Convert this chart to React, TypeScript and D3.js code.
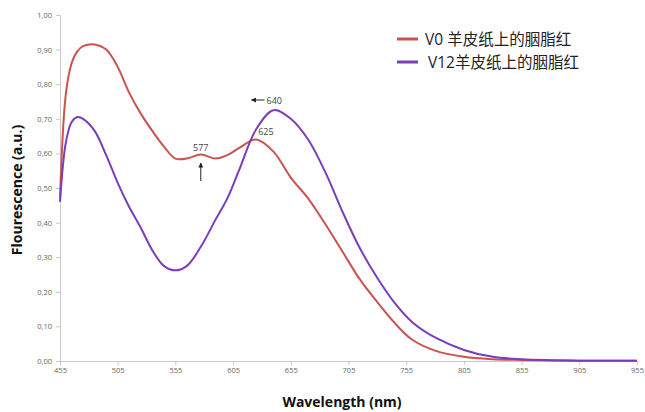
import React, { useEffect, useRef } from 'react';
import * as d3 from 'd3';

// wavelength (nm) sample points
const wavelengths = [455, 460, 465, 470, 475, 485, 495, 505, 515, 525, 535, 545, 555, 565, 577, 590, 600, 610, 625, 640, 655, 670, 685, 700, 715, 730, 745, 760, 780, 805, 830, 855, 905, 955];

// V0 on parchment
const v0Values = [0.47, 0.77, 0.86, 0.895, 0.91, 0.915, 0.9, 0.85, 0.775, 0.715, 0.665, 0.62, 0.585, 0.585, 0.597, 0.585, 0.595, 0.615, 0.64, 0.605, 0.53, 0.47, 0.395, 0.315, 0.235, 0.17, 0.11, 0.062, 0.03, 0.012, 0.005, 0.003, 0.001, 0.001];

// V12 on parchment
const v12Values = [0.46, 0.63, 0.69, 0.705, 0.7, 0.665, 0.595, 0.515, 0.445, 0.385, 0.32, 0.275, 0.262, 0.275, 0.33, 0.41, 0.47, 0.55, 0.67, 0.725, 0.7, 0.64, 0.545, 0.43, 0.325, 0.24, 0.168, 0.113, 0.068, 0.032, 0.012, 0.005, 0.001, 0.001];

const seriesNames = ['V0 羊皮纸上的胭脂红', 'V12羊皮纸上的胭脂红'];
const seriesColors = ['#C9544E', '#7A3FB8'];

const xTicks = [455, 505, 555, 605, 655, 705, 755, 805, 855, 905, 955];
const yTicks = [0, 0.1, 0.2, 0.3, 0.4, 0.5, 0.6, 0.7, 0.8, 0.9, 1.0];

export default function App() {
  const svgRef = useRef<SVGSVGElement>(null);

  useEffect(() => {
    const svg = d3.select(svgRef.current);
    svg.selectAll('*').remove();

    const x = d3.scaleLinear().domain([455, 955]).range([60, 637]);
    const y = d3.scaleLinear().domain([0, 1]).range([361, 15]);

    const fmt = (d: number) => d.toFixed(2).replace('.', ',');

    // y axis
    const yAxis = svg.append('g')
      .attr('transform', 'translate(60,0)')
      .call(d3.axisLeft(y).tickValues(yTicks).tickSize(4).tickPadding(4).tickFormat((d: any) => fmt(d)));
    yAxis.select('.domain').attr('stroke', '#c8c8c8');
    yAxis.selectAll('line').attr('stroke', '#c8c8c8');
    yAxis.selectAll('text').attr('fill', '#666').style('font-family', 'Open Sans').style('font-size', '7.5px');

    // x axis
    const xAxis = svg.append('g')
      .attr('transform', 'translate(0,361)')
      .call(d3.axisBottom(x).tickValues(xTicks).tickSize(4).tickPadding(3).tickFormat((d: any) => String(d)));
    xAxis.select('.domain').attr('stroke', '#c8c8c8');
    xAxis.selectAll('line').attr('stroke', '#c8c8c8');
    xAxis.selectAll('text').attr('fill', '#666').style('font-family', 'Open Sans').style('font-size', '7.5px');

    const line = d3.line<number>()
      .x((_, i) => x(wavelengths[i]))
      .y((d) => y(d))
      .curve(d3.curveCatmullRom.alpha(0.5));

    [v0Values, v12Values].forEach((vals, i) => {
      svg.append('path')
        .datum(vals)
        .attr('fill', 'none')
        .attr('stroke', seriesColors[i])
        .attr('stroke-width', 2)
        .attr('d', line);
    });

    // annotations
    const ann = svg.append('g').style('font-family', 'Open Sans').style('font-size', '9px').attr('fill', '#444');
    ann.append('text').attr('x', x(577)).attr('y', 151).attr('text-anchor', 'middle').text('577');
    ann.append('text').attr('x', x(625) + 2).attr('y', 135).attr('text-anchor', 'start').text('625');
    ann.append('text').attr('x', x(640) - 7).attr('y', 104).attr('text-anchor', 'start').text('640');

    svg.append('defs').append('marker')
      .attr('id', 'arr').attr('viewBox', '0 0 10 10').attr('refX', 9).attr('refY', 5)
      .attr('markerWidth', 5).attr('markerHeight', 5).attr('orient', 'auto')
      .append('path').attr('d', 'M0,0 L10,5 L0,10 z').attr('fill', '#222');

    svg.append('line')
      .attr('x1', x(577)).attr('y1', 181).attr('x2', x(577)).attr('y2', 163)
      .attr('stroke', '#222').attr('stroke-width', 1).attr('marker-end', 'url(#arr)');
    svg.append('line')
      .attr('x1', x(640) - 9).attr('y1', 100).attr('x2', x(640) - 22).attr('y2', 100)
      .attr('stroke', '#222').attr('stroke-width', 1).attr('marker-end', 'url(#arr)');

    // legend
    const legend = svg.append('g');
    seriesNames.forEach((name, i) => {
      const ly = 39 + i * 23;
      legend.append('line')
        .attr('x1', 397).attr('x2', 418).attr('y1', ly).attr('y2', ly)
        .attr('stroke', seriesColors[i]).attr('stroke-width', 3);
      legend.append('text')
        .attr('x', i === 0 ? 425 : 428).attr('y', ly + 6)
        .style('font-family', 'Open Sans, Noto Sans CJK SC').style('font-size', '15.5px')
        .attr('fill', '#222').text(name);
    });

    // axis titles
    svg.append('text')
      .attr('x', 342).attr('y', 407).attr('text-anchor', 'middle')
      .style('font-family', 'Open Sans').style('font-weight', 'bold').style('font-size', '14px')
      .attr('fill', '#111').text('Wavelength (nm)');
    svg.append('text')
      .attr('transform', 'translate(22,190) rotate(-90)').attr('text-anchor', 'middle')
      .style('font-family', 'Open Sans').style('font-weight', 'bold').style('font-size', '14px')
      .attr('fill', '#111').text('Flourescence (a.u.)');
  }, []);

  return (
    <svg ref={svgRef} width={645} height={412}
      style={{ position: 'absolute', left: 0, top: 0, background: '#fff' }} />
  );
}
